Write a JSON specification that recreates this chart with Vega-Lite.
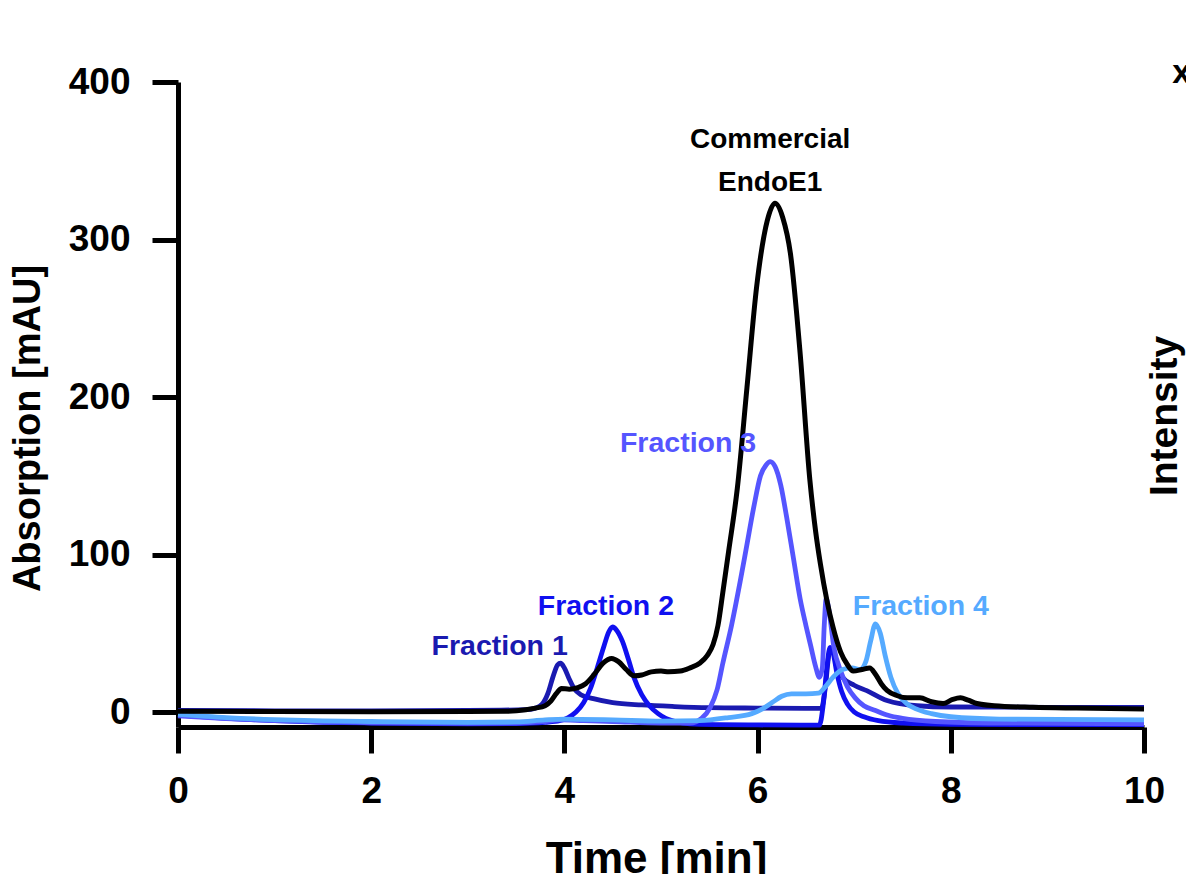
{
  "$schema": "https://vega.github.io/schema/vega-lite/v6.json",
  "width": 966,
  "height": 645,
  "autosize": {"type": "none"},
  "padding": {"left": 178, "top": 82, "right": 42, "bottom": 147},
  "background": "white",
  "config": {
    "font": "Liberation Sans",
    "view": {"stroke": null},
    "axis": {
      "grid": false,
      "domainColor": "black",
      "domainWidth": 5,
      "tickColor": "black",
      "tickWidth": 5,
      "tickSize": 26,
      "labelFlush": false,
      "labelFont": "Liberation Sans",
      "labelFontWeight": "bold",
      "labelFontSize": 37,
      "labelColor": "black",
      "titleFont": "Liberation Sans",
      "titleFontWeight": "bold",
      "titleColor": "black"
    }
  },
  "datasets": {
    "lines": [
      {"s": "Commercial EndoE1", "t": 0, "v": 0.5},
      {"s": "Commercial EndoE1", "t": 1, "v": 0.3},
      {"s": "Commercial EndoE1", "t": 2, "v": 0.2},
      {"s": "Commercial EndoE1", "t": 3, "v": 0.3},
      {"s": "Commercial EndoE1", "t": 3.4, "v": 0.5},
      {"s": "Commercial EndoE1", "t": 3.6, "v": 1.5},
      {"s": "Commercial EndoE1", "t": 3.7, "v": 2.5},
      {"s": "Commercial EndoE1", "t": 3.8, "v": 4},
      {"s": "Commercial EndoE1", "t": 3.86, "v": 7},
      {"s": "Commercial EndoE1", "t": 3.92, "v": 12},
      {"s": "Commercial EndoE1", "t": 3.97, "v": 15},
      {"s": "Commercial EndoE1", "t": 4.05, "v": 14.5},
      {"s": "Commercial EndoE1", "t": 4.14, "v": 15.5},
      {"s": "Commercial EndoE1", "t": 4.22, "v": 18},
      {"s": "Commercial EndoE1", "t": 4.31, "v": 24},
      {"s": "Commercial EndoE1", "t": 4.4, "v": 31},
      {"s": "Commercial EndoE1", "t": 4.49, "v": 34},
      {"s": "Commercial EndoE1", "t": 4.56, "v": 32},
      {"s": "Commercial EndoE1", "t": 4.64, "v": 27},
      {"s": "Commercial EndoE1", "t": 4.72, "v": 23},
      {"s": "Commercial EndoE1", "t": 4.8, "v": 23.5},
      {"s": "Commercial EndoE1", "t": 4.9, "v": 25.5},
      {"s": "Commercial EndoE1", "t": 5.0, "v": 26},
      {"s": "Commercial EndoE1", "t": 5.08, "v": 25.5},
      {"s": "Commercial EndoE1", "t": 5.2, "v": 26},
      {"s": "Commercial EndoE1", "t": 5.3, "v": 28},
      {"s": "Commercial EndoE1", "t": 5.4, "v": 31},
      {"s": "Commercial EndoE1", "t": 5.48, "v": 36},
      {"s": "Commercial EndoE1", "t": 5.54, "v": 43},
      {"s": "Commercial EndoE1", "t": 5.59, "v": 55},
      {"s": "Commercial EndoE1", "t": 5.64, "v": 76},
      {"s": "Commercial EndoE1", "t": 5.7, "v": 102},
      {"s": "Commercial EndoE1", "t": 5.79, "v": 142},
      {"s": "Commercial EndoE1", "t": 5.89, "v": 206},
      {"s": "Commercial EndoE1", "t": 5.99, "v": 270},
      {"s": "Commercial EndoE1", "t": 6.1, "v": 312},
      {"s": "Commercial EndoE1", "t": 6.18, "v": 323},
      {"s": "Commercial EndoE1", "t": 6.26, "v": 314},
      {"s": "Commercial EndoE1", "t": 6.34, "v": 291},
      {"s": "Commercial EndoE1", "t": 6.44, "v": 228},
      {"s": "Commercial EndoE1", "t": 6.54, "v": 148},
      {"s": "Commercial EndoE1", "t": 6.6, "v": 115},
      {"s": "Commercial EndoE1", "t": 6.65, "v": 94},
      {"s": "Commercial EndoE1", "t": 6.72, "v": 70},
      {"s": "Commercial EndoE1", "t": 6.78, "v": 54},
      {"s": "Commercial EndoE1", "t": 6.86, "v": 38},
      {"s": "Commercial EndoE1", "t": 6.93, "v": 30},
      {"s": "Commercial EndoE1", "t": 6.99, "v": 26},
      {"s": "Commercial EndoE1", "t": 7.08, "v": 27},
      {"s": "Commercial EndoE1", "t": 7.16, "v": 28},
      {"s": "Commercial EndoE1", "t": 7.22, "v": 24},
      {"s": "Commercial EndoE1", "t": 7.28, "v": 18},
      {"s": "Commercial EndoE1", "t": 7.34, "v": 13.7},
      {"s": "Commercial EndoE1", "t": 7.44, "v": 10.5},
      {"s": "Commercial EndoE1", "t": 7.55, "v": 9},
      {"s": "Commercial EndoE1", "t": 7.68, "v": 9},
      {"s": "Commercial EndoE1", "t": 7.8, "v": 6.5},
      {"s": "Commercial EndoE1", "t": 7.92, "v": 5.4},
      {"s": "Commercial EndoE1", "t": 8.02, "v": 8},
      {"s": "Commercial EndoE1", "t": 8.1, "v": 9},
      {"s": "Commercial EndoE1", "t": 8.18, "v": 7.5},
      {"s": "Commercial EndoE1", "t": 8.27, "v": 5.4},
      {"s": "Commercial EndoE1", "t": 8.45, "v": 4},
      {"s": "Commercial EndoE1", "t": 8.85, "v": 3},
      {"s": "Commercial EndoE1", "t": 9.3, "v": 2.5},
      {"s": "Commercial EndoE1", "t": 10, "v": 2},

      {"s": "Fraction 1", "t": 0, "v": 1},
      {"s": "Fraction 1", "t": 1, "v": 0.8},
      {"s": "Fraction 1", "t": 2, "v": 0.8},
      {"s": "Fraction 1", "t": 3, "v": 1},
      {"s": "Fraction 1", "t": 3.6, "v": 1.5},
      {"s": "Fraction 1", "t": 3.7, "v": 2.5},
      {"s": "Fraction 1", "t": 3.77, "v": 5},
      {"s": "Fraction 1", "t": 3.83, "v": 12},
      {"s": "Fraction 1", "t": 3.88, "v": 22},
      {"s": "Fraction 1", "t": 3.93, "v": 30},
      {"s": "Fraction 1", "t": 3.96, "v": 31},
      {"s": "Fraction 1", "t": 4.0, "v": 28},
      {"s": "Fraction 1", "t": 4.05, "v": 21},
      {"s": "Fraction 1", "t": 4.1, "v": 15},
      {"s": "Fraction 1", "t": 4.17, "v": 11},
      {"s": "Fraction 1", "t": 4.3, "v": 8.5},
      {"s": "Fraction 1", "t": 4.5, "v": 6},
      {"s": "Fraction 1", "t": 4.8, "v": 4.5},
      {"s": "Fraction 1", "t": 5.14, "v": 3.5},
      {"s": "Fraction 1", "t": 5.5, "v": 2.8},
      {"s": "Fraction 1", "t": 6, "v": 2.5},
      {"s": "Fraction 1", "t": 6.5, "v": 2.3},
      {"s": "Fraction 1", "t": 6.66, "v": 2.3},
      {"s": "Fraction 1", "t": 6.7, "v": 15},
      {"s": "Fraction 1", "t": 6.74, "v": 37},
      {"s": "Fraction 1", "t": 6.77, "v": 40},
      {"s": "Fraction 1", "t": 6.82, "v": 30},
      {"s": "Fraction 1", "t": 6.88, "v": 22},
      {"s": "Fraction 1", "t": 7.0, "v": 17},
      {"s": "Fraction 1", "t": 7.13, "v": 13.6},
      {"s": "Fraction 1", "t": 7.34, "v": 7.3},
      {"s": "Fraction 1", "t": 7.65, "v": 4},
      {"s": "Fraction 1", "t": 8, "v": 3.2},
      {"s": "Fraction 1", "t": 9, "v": 3},
      {"s": "Fraction 1", "t": 10, "v": 3},

      {"s": "Fraction 2", "t": 0, "v": -2},
      {"s": "Fraction 2", "t": 0.5, "v": -4},
      {"s": "Fraction 2", "t": 1, "v": -5.5},
      {"s": "Fraction 2", "t": 1.5, "v": -6.5},
      {"s": "Fraction 2", "t": 2, "v": -7},
      {"s": "Fraction 2", "t": 3, "v": -7.5},
      {"s": "Fraction 2", "t": 3.5, "v": -7.3},
      {"s": "Fraction 2", "t": 3.8, "v": -6.5},
      {"s": "Fraction 2", "t": 3.95, "v": -5.5},
      {"s": "Fraction 2", "t": 4.04, "v": -3.5},
      {"s": "Fraction 2", "t": 4.12, "v": 0},
      {"s": "Fraction 2", "t": 4.2, "v": 6},
      {"s": "Fraction 2", "t": 4.27, "v": 15},
      {"s": "Fraction 2", "t": 4.34, "v": 28},
      {"s": "Fraction 2", "t": 4.41, "v": 42},
      {"s": "Fraction 2", "t": 4.46, "v": 51},
      {"s": "Fraction 2", "t": 4.5, "v": 54},
      {"s": "Fraction 2", "t": 4.54, "v": 52},
      {"s": "Fraction 2", "t": 4.6, "v": 45},
      {"s": "Fraction 2", "t": 4.66, "v": 34},
      {"s": "Fraction 2", "t": 4.72, "v": 22},
      {"s": "Fraction 2", "t": 4.8, "v": 11},
      {"s": "Fraction 2", "t": 4.88, "v": 4},
      {"s": "Fraction 2", "t": 4.97, "v": -1},
      {"s": "Fraction 2", "t": 5.05, "v": -4},
      {"s": "Fraction 2", "t": 5.15, "v": -6},
      {"s": "Fraction 2", "t": 5.3, "v": -7.5},
      {"s": "Fraction 2", "t": 5.6, "v": -8},
      {"s": "Fraction 2", "t": 6.0, "v": -8.2},
      {"s": "Fraction 2", "t": 6.5, "v": -8.3},
      {"s": "Fraction 2", "t": 6.64, "v": -8.3},
      {"s": "Fraction 2", "t": 6.68, "v": 5},
      {"s": "Fraction 2", "t": 6.72, "v": 30},
      {"s": "Fraction 2", "t": 6.75, "v": 41},
      {"s": "Fraction 2", "t": 6.78, "v": 38},
      {"s": "Fraction 2", "t": 6.82, "v": 25},
      {"s": "Fraction 2", "t": 6.87, "v": 13},
      {"s": "Fraction 2", "t": 6.93, "v": 5},
      {"s": "Fraction 2", "t": 7.0, "v": 0},
      {"s": "Fraction 2", "t": 7.1, "v": -3},
      {"s": "Fraction 2", "t": 7.25, "v": -5.5},
      {"s": "Fraction 2", "t": 7.5, "v": -7},
      {"s": "Fraction 2", "t": 8, "v": -7.8},
      {"s": "Fraction 2", "t": 9, "v": -8},
      {"s": "Fraction 2", "t": 10, "v": -8},

      {"s": "Fraction 3", "t": 0, "v": -2.5},
      {"s": "Fraction 3", "t": 0.5, "v": -4.2},
      {"s": "Fraction 3", "t": 1, "v": -5.5},
      {"s": "Fraction 3", "t": 2, "v": -6.8},
      {"s": "Fraction 3", "t": 3, "v": -7.2},
      {"s": "Fraction 3", "t": 3.5, "v": -7},
      {"s": "Fraction 3", "t": 3.8, "v": -6},
      {"s": "Fraction 3", "t": 3.95, "v": -5},
      {"s": "Fraction 3", "t": 4.2, "v": -5.5},
      {"s": "Fraction 3", "t": 4.5, "v": -6},
      {"s": "Fraction 3", "t": 5, "v": -7},
      {"s": "Fraction 3", "t": 5.3, "v": -7},
      {"s": "Fraction 3", "t": 5.42, "v": -4},
      {"s": "Fraction 3", "t": 5.51, "v": 3},
      {"s": "Fraction 3", "t": 5.58, "v": 14},
      {"s": "Fraction 3", "t": 5.64, "v": 31},
      {"s": "Fraction 3", "t": 5.73, "v": 55},
      {"s": "Fraction 3", "t": 5.82, "v": 83},
      {"s": "Fraction 3", "t": 5.88, "v": 103},
      {"s": "Fraction 3", "t": 5.96, "v": 130},
      {"s": "Fraction 3", "t": 6.03, "v": 150},
      {"s": "Fraction 3", "t": 6.09, "v": 157},
      {"s": "Fraction 3", "t": 6.13, "v": 159},
      {"s": "Fraction 3", "t": 6.18, "v": 156},
      {"s": "Fraction 3", "t": 6.24, "v": 144},
      {"s": "Fraction 3", "t": 6.3, "v": 124},
      {"s": "Fraction 3", "t": 6.37, "v": 98},
      {"s": "Fraction 3", "t": 6.44, "v": 72},
      {"s": "Fraction 3", "t": 6.5, "v": 55},
      {"s": "Fraction 3", "t": 6.55, "v": 42},
      {"s": "Fraction 3", "t": 6.6, "v": 29},
      {"s": "Fraction 3", "t": 6.64, "v": 22},
      {"s": "Fraction 3", "t": 6.67, "v": 28},
      {"s": "Fraction 3", "t": 6.69, "v": 55},
      {"s": "Fraction 3", "t": 6.71, "v": 72},
      {"s": "Fraction 3", "t": 6.74, "v": 64},
      {"s": "Fraction 3", "t": 6.79, "v": 41},
      {"s": "Fraction 3", "t": 6.86, "v": 26},
      {"s": "Fraction 3", "t": 6.93, "v": 16},
      {"s": "Fraction 3", "t": 7.01, "v": 9},
      {"s": "Fraction 3", "t": 7.1, "v": 4},
      {"s": "Fraction 3", "t": 7.22, "v": 1},
      {"s": "Fraction 3", "t": 7.35, "v": -2},
      {"s": "Fraction 3", "t": 7.5, "v": -4},
      {"s": "Fraction 3", "t": 7.84, "v": -6},
      {"s": "Fraction 3", "t": 8.5, "v": -7},
      {"s": "Fraction 3", "t": 10, "v": -7.5},

      {"s": "Fraction 4", "t": 0, "v": -1.5},
      {"s": "Fraction 4", "t": 0.5, "v": -3.5},
      {"s": "Fraction 4", "t": 1, "v": -4.8},
      {"s": "Fraction 4", "t": 1.5, "v": -5.6},
      {"s": "Fraction 4", "t": 2, "v": -6},
      {"s": "Fraction 4", "t": 3, "v": -6.5},
      {"s": "Fraction 4", "t": 3.5, "v": -6.3},
      {"s": "Fraction 4", "t": 3.8, "v": -5},
      {"s": "Fraction 4", "t": 4, "v": -4.5},
      {"s": "Fraction 4", "t": 4.5, "v": -5},
      {"s": "Fraction 4", "t": 5, "v": -5.8},
      {"s": "Fraction 4", "t": 5.4, "v": -5.5},
      {"s": "Fraction 4", "t": 5.7, "v": -3.5},
      {"s": "Fraction 4", "t": 5.94, "v": -1},
      {"s": "Fraction 4", "t": 6.05, "v": 2},
      {"s": "Fraction 4", "t": 6.15, "v": 6},
      {"s": "Fraction 4", "t": 6.25, "v": 10},
      {"s": "Fraction 4", "t": 6.35, "v": 11.5},
      {"s": "Fraction 4", "t": 6.5, "v": 11.5},
      {"s": "Fraction 4", "t": 6.63, "v": 12},
      {"s": "Fraction 4", "t": 6.7, "v": 16},
      {"s": "Fraction 4", "t": 6.78, "v": 22},
      {"s": "Fraction 4", "t": 6.88, "v": 27},
      {"s": "Fraction 4", "t": 6.98, "v": 28},
      {"s": "Fraction 4", "t": 7.06, "v": 27},
      {"s": "Fraction 4", "t": 7.12, "v": 32},
      {"s": "Fraction 4", "t": 7.17, "v": 45},
      {"s": "Fraction 4", "t": 7.22, "v": 56},
      {"s": "Fraction 4", "t": 7.27, "v": 50},
      {"s": "Fraction 4", "t": 7.32, "v": 36},
      {"s": "Fraction 4", "t": 7.38, "v": 22},
      {"s": "Fraction 4", "t": 7.45, "v": 12},
      {"s": "Fraction 4", "t": 7.55, "v": 5},
      {"s": "Fraction 4", "t": 7.64, "v": 2},
      {"s": "Fraction 4", "t": 7.8, "v": -1},
      {"s": "Fraction 4", "t": 8, "v": -3},
      {"s": "Fraction 4", "t": 8.5, "v": -4.5},
      {"s": "Fraction 4", "t": 10, "v": -5}
    ],
    "labels": [
      {"kind": "main", "s": "Commercial EndoE1", "label": "Commercial", "t": 6.13, "v": 363},
      {"kind": "main", "s": "Commercial EndoE1", "label": "EndoE1", "t": 6.13, "v": 336},
      {"kind": "frac", "s": "Fraction 1", "label": "Fraction 1", "t": 3.33, "v": 42},
      {"kind": "frac", "s": "Fraction 2", "label": "Fraction 2", "t": 4.43, "v": 67.5},
      {"kind": "frac", "s": "Fraction 3", "label": "Fraction 3", "t": 5.28, "v": 171},
      {"kind": "frac", "s": "Fraction 4", "label": "Fraction 4", "t": 7.69, "v": 67.5},
      {"kind": "side", "s": "other", "label": "Intensity", "t": 10.22, "v": 188},
      {"kind": "corner", "s": "other", "label": "x", "t": 10.39, "v": 406}
    ]
  },
  "encoding": {
    "x": {
      "field": "t", "type": "quantitative",
      "scale": {"domain": [0, 10], "nice": false, "zero": false},
      "axis": {
        "values": [0, 2, 4, 6, 8, 10],
        "labelPadding": 20,
        "title": "Time [min]",
        "titleFontSize": 44,
        "titleX": 478,
        "titleY": 145,
        "titleAnchor": null,
        "titleAlign": "center",
        "titleBaseline": "alphabetic"
      }
    },
    "y": {
      "field": "v", "type": "quantitative",
      "scale": {"domain": [-9.5, 400], "nice": false, "zero": false},
      "axis": {
        "values": [0, 100, 200, 300, 400],
        "labelPadding": 22,
        "title": "Absorption [mAU]",
        "titleFontSize": 38,
        "titleAngle": 270,
        "titleX": -150,
        "titleY": 346,
        "titleAlign": "center",
        "titleBaseline": "middle"
      }
    },
    "color": {
      "field": "s", "type": "nominal", "legend": null,
      "scale": {
        "domain": ["Commercial EndoE1", "Fraction 1", "Fraction 2", "Fraction 3", "Fraction 4", "other"],
        "range": ["#000000", "#1a1ab0", "#1010f0", "#5555ff", "#55aaff", "#000000"]
      }
    }
  },
  "layer": [
    {
      "data": {"name": "lines"},
      "transform": [{"filter": "datum.s !== 'Commercial EndoE1'"}],
      "mark": {"type": "line", "strokeWidth": 4.8, "interpolate": "monotone"},
      "encoding": {"detail": {"field": "s"}}
    },
    {
      "data": {"name": "lines"},
      "transform": [{"filter": "datum.s === 'Commercial EndoE1'"}],
      "mark": {"type": "line", "strokeWidth": 5, "interpolate": "monotone"},
      "encoding": {}
    },
    {
      "data": {"name": "labels"},
      "transform": [{"filter": "datum.kind === 'main'"}],
      "mark": {"type": "text", "fontSize": 28, "fontWeight": "bold", "align": "center", "baseline": "middle"},
      "encoding": {"text": {"field": "label"}}
    },
    {
      "data": {"name": "labels"},
      "transform": [{"filter": "datum.kind === 'frac'"}],
      "mark": {"type": "text", "fontSize": 28.5, "fontWeight": "bold", "align": "center", "baseline": "middle"},
      "encoding": {"text": {"field": "label"}}
    },
    {
      "data": {"name": "labels"},
      "transform": [{"filter": "datum.kind === 'side'"}],
      "mark": {"type": "text", "fontSize": 39, "fontWeight": "bold", "align": "center", "baseline": "middle", "angle": 270},
      "encoding": {"text": {"field": "label"}}
    },
    {
      "data": {"name": "labels"},
      "transform": [{"filter": "datum.kind === 'corner'"}],
      "mark": {"type": "text", "fontSize": 34, "fontWeight": "bold", "align": "center", "baseline": "middle"},
      "encoding": {"text": {"field": "label"}}
    }
  ]
}
